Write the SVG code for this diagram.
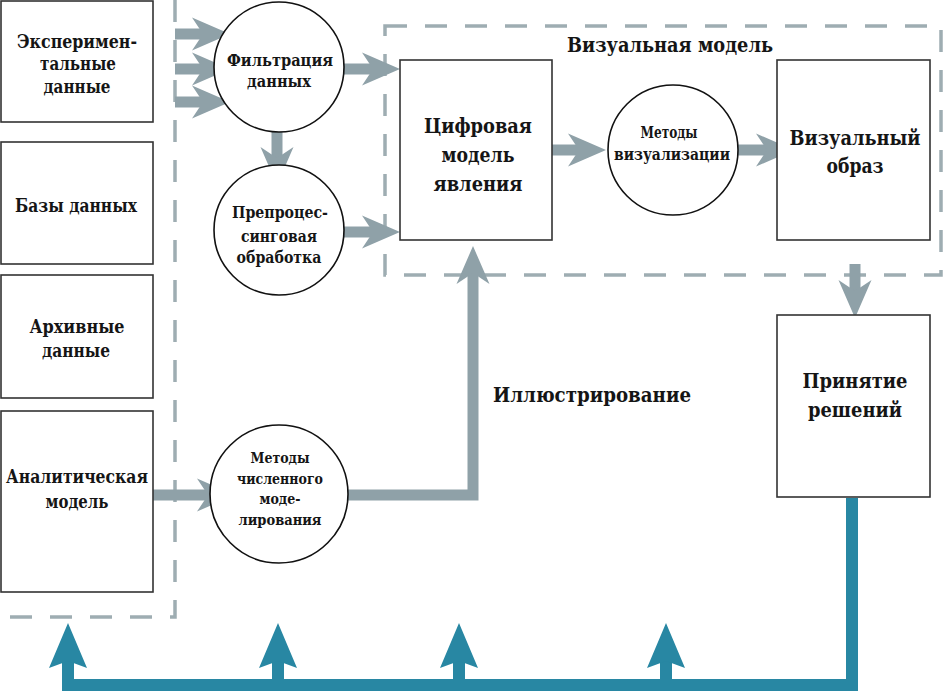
<svg xmlns="http://www.w3.org/2000/svg" width="943" height="691" viewBox="0 0 943 691">
<style>
  .box { fill: #fff; stroke: #333; stroke-width: 1.6; }
  .circ { fill: #fff; stroke: #111; stroke-width: 1.6; }
  .dash { fill: none; stroke: #9eadb2; stroke-width: 3.5; stroke-dasharray: 22 18; }
  .g { fill: none; stroke: #8fa1a8; stroke-width: 11; }
  .gh { fill: #8fa1a8; }
  .t { fill: none; stroke: #2887a3; stroke-width: 12; }
  .th { fill: #2887a3; }
  text { font-family: "DejaVu Serif", "Liberation Serif", serif; font-weight: 700; fill: #151515; text-anchor: middle; }
  .big { font-size: 21px; }
  .mid { font-size: 18px; }
  .sm { font-size: 16.5px; }
  .vs { font-size: 16px; }
  .xs { font-size: 15.5px; }
</style>
<defs>
  <path id="ah" d="M0,0 L-38,-16.5 L-27,0 L-38,16.5 Z"/>
  <path id="th" d="M0,0 L-45,-19 L-38,0 L-45,19 Z"/>
</defs>

<g id="frames">
  <path class="dash" d="M175,0 V617 H0"/>
  <rect class="dash" x="385" y="26" width="556" height="249"/>
</g>

<g id="connectors">
  <line class="g" x1="175" y1="34" x2="205" y2="34"/>
  <use href="#ah" class="gh" transform="translate(230,34)"/>
  <line class="g" x1="175" y1="69" x2="205" y2="69"/>
  <use href="#ah" class="gh" transform="translate(230,69)"/>
  <line class="g" x1="175" y1="102" x2="205" y2="102"/>
  <use href="#ah" class="gh" transform="translate(230,102)"/>
  <line class="g" x1="277" y1="132" x2="277" y2="162"/>
  <use href="#ah" class="gh" transform="translate(277,185) rotate(90)"/>
  <line class="g" x1="344" y1="69" x2="376" y2="69"/>
  <use href="#ah" class="gh" transform="translate(400,69)"/>
  <line class="g" x1="344" y1="232" x2="376" y2="232"/>
  <use href="#ah" class="gh" transform="translate(400,232)"/>
  <line class="g" x1="552" y1="150" x2="582" y2="150"/>
  <use href="#ah" class="gh" transform="translate(606,150)"/>
  <line class="g" x1="738" y1="150" x2="770" y2="150"/>
  <use href="#ah" class="gh" transform="translate(794,150)"/>
  <line class="g" x1="855" y1="264" x2="855" y2="295"/>
  <use href="#ah" class="gh" transform="translate(855,318) rotate(90)"/>
  <line class="g" x1="153" y1="495" x2="210" y2="495"/>
  <use href="#ah" class="gh" transform="translate(235,495)"/>
  <path class="g" d="M348,495 H473 V270"/>
  <use href="#ah" class="gh" transform="translate(473,246) rotate(-90)"/>
  <path class="t" d="M852,498 V685 H68 V655"/>
  <use href="#th" class="th" transform="translate(68,623) rotate(-90)"/>
  <line class="t" x1="278" y1="685" x2="278" y2="655"/>
  <use href="#th" class="th" transform="translate(278,623) rotate(-90)"/>
  <line class="t" x1="459" y1="685" x2="459" y2="655"/>
  <use href="#th" class="th" transform="translate(459,623) rotate(-90)"/>
  <line class="t" x1="666" y1="685" x2="666" y2="655"/>
  <use href="#th" class="th" transform="translate(666,623) rotate(-90)"/>
</g>

<g id="n-exp">
  <rect class="box" x="1" y="1" width="152" height="121"/>
  <text class="mid" x="77" y="48" textLength="120" lengthAdjust="spacingAndGlyphs">Эксперимен-</text>
  <text class="mid" x="78" y="70" textLength="76" lengthAdjust="spacingAndGlyphs">тальные</text>
  <text class="mid" x="77" y="93" textLength="67" lengthAdjust="spacingAndGlyphs">данные</text>
</g>
<g id="n-db">
  <rect class="box" x="1" y="142" width="152" height="122"/>
  <text class="mid" x="76" y="212" textLength="122" lengthAdjust="spacingAndGlyphs">Базы данных</text>
</g>
<g id="n-arch">
  <rect class="box" x="1" y="275" width="152" height="123"/>
  <text class="mid" x="77" y="333" textLength="95" lengthAdjust="spacingAndGlyphs">Архивные</text>
  <text class="mid" x="76" y="357" textLength="68" lengthAdjust="spacingAndGlyphs">данные</text>
</g>
<g id="n-analytic">
  <rect class="box" x="1" y="411" width="152" height="181"/>
  <text class="mid" x="77" y="483" textLength="142" lengthAdjust="spacingAndGlyphs">Аналитическая</text>
  <text class="mid" x="77" y="508" textLength="63" lengthAdjust="spacingAndGlyphs">модель</text>
</g>
<g id="n-filter">
  <circle class="circ" cx="279" cy="67" r="65"/>
  <text class="sm" x="280" y="66" textLength="106" lengthAdjust="spacingAndGlyphs">Фильтрация</text>
  <text class="sm" x="279" y="87" textLength="64" lengthAdjust="spacingAndGlyphs">данных</text>
</g>
<g id="n-preproc">
  <circle class="circ" cx="279" cy="230" r="65"/>
  <text class="sm" x="280" y="218" textLength="96" lengthAdjust="spacingAndGlyphs">Препроцес-</text>
  <text class="sm" x="279" y="242" textLength="76" lengthAdjust="spacingAndGlyphs">синговая</text>
  <text class="sm" x="279" y="263" textLength="85" lengthAdjust="spacingAndGlyphs">обработка</text>
</g>
<g id="n-numeric">
  <circle class="circ" cx="279" cy="494" r="69"/>
  <text class="xs" x="280" y="463" textLength="59" lengthAdjust="spacingAndGlyphs">Методы</text>
  <text class="xs" x="280" y="484" textLength="86" lengthAdjust="spacingAndGlyphs">численного</text>
  <text class="xs" x="280" y="504" textLength="41" lengthAdjust="spacingAndGlyphs">моде-</text>
  <text class="xs" x="280" y="525" textLength="83" lengthAdjust="spacingAndGlyphs">лирования</text>
</g>
<g id="n-visual-model-label">
  <text class="big" x="670" y="52" textLength="206" lengthAdjust="spacingAndGlyphs">Визуальная модель</text>
</g>
<g id="n-digital">
  <rect class="box" x="400" y="60" width="152" height="180"/>
  <text class="big" x="478" y="133" textLength="108" lengthAdjust="spacingAndGlyphs">Цифровая</text>
  <text class="big" x="478" y="162" textLength="73" lengthAdjust="spacingAndGlyphs">модель</text>
  <text class="big" x="478" y="191" textLength="89" lengthAdjust="spacingAndGlyphs">явления</text>
</g>
<g id="n-vismethods">
  <circle class="circ" cx="673" cy="150" r="65"/>
  <text class="vs" x="669" y="138" textLength="57" lengthAdjust="spacingAndGlyphs">Методы</text>
  <text class="vs" x="672" y="160" textLength="116" lengthAdjust="spacingAndGlyphs">визуализации</text>
</g>
<g id="n-visimage">
  <rect class="box" x="777" y="60" width="153" height="180"/>
  <text class="big" x="855" y="145" textLength="131" lengthAdjust="spacingAndGlyphs">Визуальный</text>
  <text class="big" x="855" y="173" textLength="57" lengthAdjust="spacingAndGlyphs">образ</text>
</g>
<g id="n-decision">
  <rect class="box" x="777" y="315" width="153" height="182"/>
  <text class="big" x="855" y="388" textLength="105" lengthAdjust="spacingAndGlyphs">Принятие</text>
  <text class="big" x="855" y="417" textLength="94" lengthAdjust="spacingAndGlyphs">решений</text>
</g>
<g id="n-illustr-label">
  <text class="big" x="592" y="402" textLength="198" lengthAdjust="spacingAndGlyphs">Иллюстрирование</text>
</g>
</svg>
